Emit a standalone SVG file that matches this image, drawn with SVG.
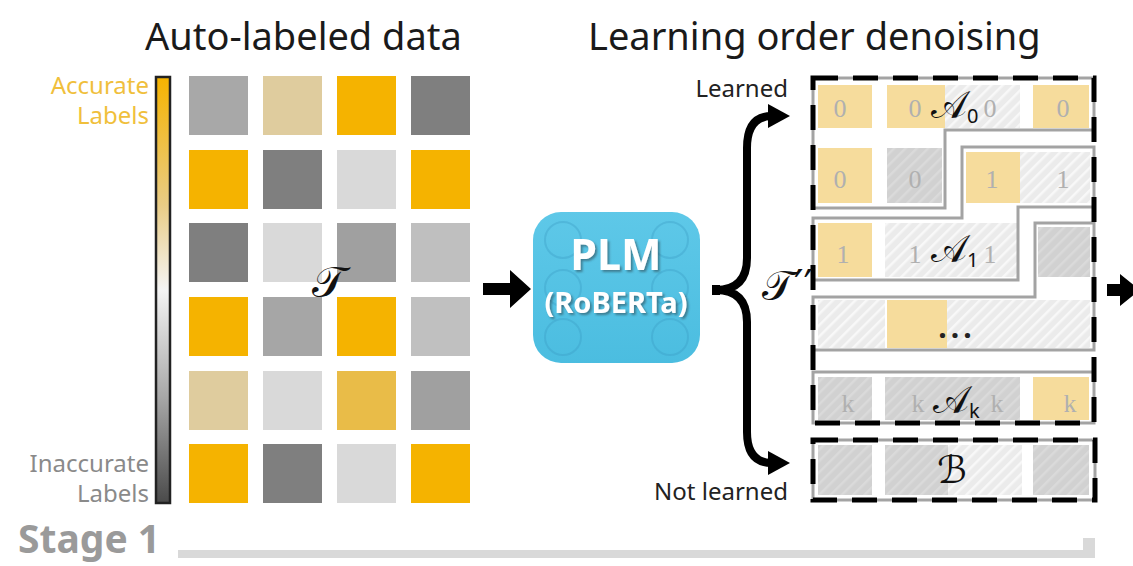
<svg xmlns="http://www.w3.org/2000/svg" width="1133" height="566" viewBox="0 0 1133 566">
<style>
.title{font-family:"Noto Sans","Open Sans",sans-serif;font-size:38px;fill:#1a1a1a}
.lab{font-family:"Noto Sans","Open Sans",sans-serif;font-size:24px}
.dig{font-family:"Liberation Serif",serif;font-size:26px;fill:#b0b0b0;text-anchor:middle}
.math{font-family:"DejaVu Serif","DejaVu Sans","Noto Sans",serif;fill:#111}
.reg{fill:none;stroke:#a3a3a3;stroke-width:3}
.dash{fill:none;stroke:#000;stroke-width:5;stroke-dasharray:25 15}
.tan{fill:#f6dc9c}
.gr{fill:url(#hG)}
.lt{fill:url(#hL)}
</style>
<defs>
<linearGradient id="bar" x1="0" y1="0" x2="0" y2="1">
<stop offset="0" stop-color="#f5b300"/>
<stop offset="0.3" stop-color="#e9cc85"/>
<stop offset="0.5" stop-color="#f4f4f4"/>
<stop offset="0.75" stop-color="#a8a8a8"/>
<stop offset="1" stop-color="#4a4a4a"/>
</linearGradient>
<linearGradient id="plm" x1="0" y1="0" x2="0" y2="1">
<stop offset="0" stop-color="#5ec8e8"/>
<stop offset="1" stop-color="#4bbde0"/>
</linearGradient>
<filter id="sh" x="-10%" y="-20%" width="130%" height="150%">
<feDropShadow dx="2" dy="2" stdDeviation="1" flood-color="#2f4f5a" flood-opacity="0.6"/>
</filter>
<pattern id="hL" patternUnits="userSpaceOnUse" width="8" height="8" patternTransform="rotate(45)">
<rect width="8" height="8" fill="#ebebeb"/><rect width="2.5" height="8" fill="#f8f8f8"/>
</pattern>
<pattern id="hG" patternUnits="userSpaceOnUse" width="8" height="8" patternTransform="rotate(45)">
<rect width="8" height="8" fill="#d1d1d1"/><rect width="2.5" height="8" fill="#dadada"/>
</pattern>
</defs>
<rect width="1133" height="566" fill="#fff"/>

<text class="title" x="145" y="50">Auto-labeled data</text>
<text class="title" x="588" y="50">Learning order denoising</text>

<g id="scale">
<rect x="156" y="77" width="14" height="426" fill="url(#bar)" stroke="#222" stroke-width="2.5"/>
<text class="lab" x="149" y="94" text-anchor="end" fill="#f0bf3c">Accurate</text>
<text class="lab" x="149" y="124" text-anchor="end" fill="#f0bf3c">Labels</text>
<text class="lab" x="149" y="472" text-anchor="end" fill="#8a8a8a">Inaccurate</text>
<text class="lab" x="149" y="502" text-anchor="end" fill="#8a8a8a">Labels</text>
</g>

<g id="grid">
<rect x="189" y="76" width="59" height="59" fill="#a8a8a8"/>
<rect x="263" y="76" width="59" height="59" fill="#dfcc9e"/>
<rect x="337" y="76" width="59" height="59" fill="#f5b300"/>
<rect x="411" y="76" width="59" height="59" fill="#7f7f7f"/>
<rect x="189" y="150" width="59" height="59" fill="#f5b300"/>
<rect x="263" y="150" width="59" height="59" fill="#7f7f7f"/>
<rect x="337" y="150" width="59" height="59" fill="#d9d9d9"/>
<rect x="411" y="150" width="59" height="59" fill="#f5b300"/>
<rect x="189" y="223" width="59" height="59" fill="#7f7f7f"/>
<rect x="263" y="223" width="59" height="59" fill="#d9d9d9"/>
<rect x="337" y="223" width="59" height="59" fill="#a0a0a0"/>
<rect x="411" y="223" width="59" height="59" fill="#bfbfbf"/>
<rect x="189" y="297" width="59" height="59" fill="#f5b300"/>
<rect x="263" y="297" width="59" height="59" fill="#a6a6a6"/>
<rect x="337" y="297" width="59" height="59" fill="#f5b300"/>
<rect x="411" y="297" width="59" height="59" fill="#c0c0c0"/>
<rect x="189" y="371" width="59" height="59" fill="#dfcc9e"/>
<rect x="263" y="371" width="59" height="59" fill="#d9d9d9"/>
<rect x="337" y="371" width="59" height="59" fill="#e9bc48"/>
<rect x="411" y="371" width="59" height="59" fill="#a0a0a0"/>
<rect x="189" y="444" width="59" height="59" fill="#f5b300"/>
<rect x="263" y="444" width="59" height="59" fill="#7f7f7f"/>
<rect x="337" y="444" width="59" height="59" fill="#d9d9d9"/>
<rect x="411" y="444" width="59" height="59" fill="#f5b300"/>
<text class="math" x="312" y="297" font-size="44">𝒯</text>
</g>

<g id="plm-node">
<rect x="533" y="212" width="167" height="151" rx="28" fill="url(#plm)"/>
<g fill="none" stroke="#3a9cc4" stroke-opacity="0.35" stroke-width="2">
<circle cx="563" cy="240" r="18"/><circle cx="563" cy="288" r="18"/><circle cx="563" cy="337" r="18"/>
<circle cx="670" cy="240" r="18"/><circle cx="670" cy="288" r="18"/><circle cx="670" cy="337" r="18"/>
</g>
<g font-family="Noto Sans,Open Sans,sans-serif" font-weight="bold" text-anchor="middle" fill="#fff" filter="url(#sh)">
<text x="616" y="270" font-size="43">PLM</text>
<text x="616" y="313" font-size="29">(RoBERTa)</text>
</g>
</g>

<g id="ordered">
<rect class="tan" x="818" y="85" width="54" height="43"/>
<rect class="tan" x="887" y="85" width="58" height="43"/>
<rect class="lt" x="945" y="85" width="75" height="43"/>
<rect class="tan" x="1033" y="85" width="56" height="43"/>
<rect class="tan" x="818" y="148" width="54" height="55"/>
<rect class="gr" x="887" y="148" width="55" height="55"/>
<rect class="tan" x="966" y="152" width="54" height="51"/>
<rect class="lt" x="1020" y="152" width="70" height="51"/>
<rect class="tan" x="818" y="223" width="54" height="54"/>
<rect class="lt" x="885" y="223" width="132" height="54"/>
<rect class="gr" x="1038" y="227" width="52" height="50"/>
<rect class="lt" x="818" y="300" width="67" height="48"/>
<rect class="tan" x="887" y="300" width="60" height="48"/>
<rect class="lt" x="947" y="300" width="143" height="48"/>
<rect class="gr" x="818" y="377" width="54" height="43"/>
<rect class="gr" x="885" y="377" width="135" height="43"/>
<rect class="tan" x="1033" y="377" width="56" height="43"/>

<path class="reg" d="M813 78H1094V130H945V208H813Z"/>
<path class="reg" d="M962 147H1094V207H1018V280H813V218H962Z"/>
<path class="reg" d="M1035 223H1094V350H813V297H1035Z"/>
<path class="reg" d="M813 372H1094V423H813Z"/>
<rect class="dash" x="813" y="78" width="281" height="345"/>

<text class="dig" x="840" y="117">0</text>
<text class="dig" x="915" y="117">0</text>
<text class="dig" x="990" y="117">0</text>
<text class="dig" x="1063" y="117">0</text>
<text class="dig" x="840" y="188">0</text>
<text class="dig" x="915" y="188">0</text>
<text class="dig" x="992" y="188">1</text>
<text class="dig" x="1063" y="188">1</text>
<text class="dig" x="843" y="263">1</text>
<text class="dig" x="915" y="263">1</text>
<text class="dig" x="990" y="263">1</text>
<text class="dig" x="848" y="412" font-family="Noto Sans,sans-serif" font-size="24">k</text>
<text class="dig" x="918" y="412" font-family="Noto Sans,sans-serif" font-size="24">k</text>
<text class="dig" x="997" y="412" font-family="Noto Sans,sans-serif" font-size="24">k</text>
<text class="dig" x="1070" y="412" font-family="Noto Sans,sans-serif" font-size="24">k</text>

<text class="math" x="931" y="118" font-size="38">𝒜<tspan font-family="Noto Sans,sans-serif" font-size="20" dy="5">0</tspan></text>
<text class="math" x="931" y="262" font-size="38">𝒜<tspan font-family="Noto Sans,sans-serif" font-size="20" dy="5">1</tspan></text>
<text class="math" x="933" y="413" font-size="38">𝒜<tspan font-family="Noto Sans,sans-serif" font-size="20" dy="5">k</tspan></text>
<text x="957" y="338" font-family="Noto Sans,sans-serif" font-size="30" font-weight="bold" letter-spacing="4" fill="#222" text-anchor="middle">...</text>
<text class="math" x="762" y="300" font-size="42">𝒯′′</text>
</g>

<g id="notlearned">
<rect class="gr" x="818" y="445" width="54" height="50"/>
<rect class="gr" x="885" y="445" width="63" height="50"/>
<rect class="lt" x="948" y="445" width="74" height="50"/>
<rect class="gr" x="1033" y="445" width="56" height="50"/>
<rect x="813" y="440" width="282" height="60" fill="none" stroke="#a3a3a3" stroke-width="3"/>
<rect class="dash" x="813" y="440" width="282" height="60"/>
<text class="math" x="937" y="483" font-size="38">ℬ</text>
</g>

<g id="side-labels">
<text class="lab" x="788" y="97" text-anchor="end" fill="#222">Learned</text>
<text class="lab" x="788" y="500" text-anchor="end" fill="#222">Not learned</text>
</g>

<g id="connectors">
<path d="M483 283H510V270L531 289L510 308V295H483Z" fill="#000"/>
<path d="M716 290Q747 290 747 258V148Q747 116 772 116M716 290Q747 290 747 322V432Q747 463 772 463" fill="none" stroke="#000" stroke-width="8"/>
<rect x="712" y="285" width="8" height="10" fill="#000"/>
<path d="M768 104L790 116L768 128Z" fill="#000"/>
<path d="M768 451L790 463L768 475Z" fill="#000"/>
<path d="M1107 284H1120V274L1140 290L1120 306V296H1107Z" fill="#000"/>
</g>

<g id="stage">
<text x="18" y="553" font-family="Noto Sans,Open Sans,sans-serif" font-size="39" font-weight="bold" fill="#9a9a9a">Stage 1</text>
<path d="M178 550H1083V538H1095V558H178Z" fill="#d9d9d9"/>
</g>
</svg>
